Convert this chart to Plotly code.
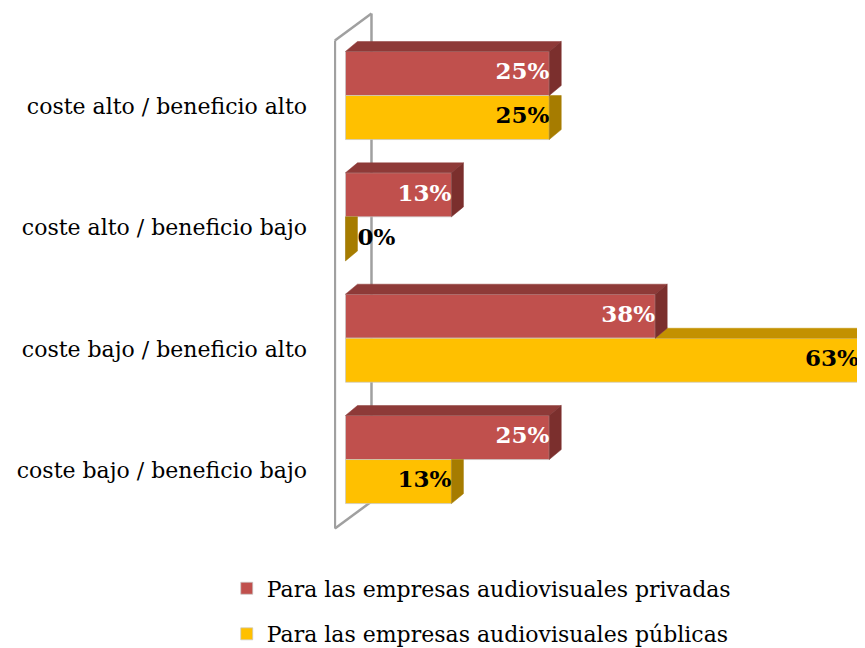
import plotly.graph_objects as go

categories = ["coste alto / beneficio alto", "coste alto / beneficio bajo",
              "coste bajo / beneficio alto", "coste bajo / beneficio bajo"]
privadas = [25, 13, 38, 25]
publicas = [25, 0, 63, 13]
series_names = ["Para las empresas audiovisuales privadas",
                "Para las empresas audiovisuales públicas"]

FONT = "DejaVu Serif"
W = 0.363      # bar thickness (category units)
DX = 1.47      # 3d depth, x units
DY = -0.082    # 3d depth, y units (axis reversed, negative = up)

RED, RED_TOP, RED_SIDE = "#C0504D", "#8E3A38", "#7B2F2D"
YEL, YEL_TOP, YEL_SIDE = "#FFC000", "#C39100", "#A67C00"

idx = list(range(len(categories)))
y_red = [k - W / 2 for k in idx]
y_yel = [k + W / 2 for k in idx]

fig = go.Figure()

# front faces
fig.add_trace(go.Bar(y=y_red, x=privadas, orientation="h", width=W, name=series_names[0],
                     marker=dict(color=RED, line=dict(color="rgba(200,200,200,0.7)", width=1)),
                     legendgroup="a", hoverinfo="skip"))
fig.add_trace(go.Bar(y=y_yel, x=publicas, orientation="h", width=W, name=series_names[1],
                     marker=dict(color=YEL, line=dict(color="rgba(200,200,200,0.7)", width=1)),
                     legendgroup="b", hoverinfo="skip"))


def poly(xs, ys, color):
    fig.add_trace(go.Scatter(x=xs + [xs[0]], y=ys + [ys[0]], mode="lines", fill="toself",
                             fillcolor=color, line=dict(color=color, width=0.5),
                             showlegend=False, hoverinfo="skip"))


for k, vr, vy in zip(idx, privadas, publicas):
    top_r = k - W
    # yellow top face, part not hidden by the red bar
    if vy > vr:
        poly([vr, vy, vy + DX, vr + DX], [k, k, k + DY, k + DY], YEL_TOP)
    # yellow side face (upper part hidden behind red when red is longer)
    if vr >= vy:
        poly([vy, vy + DX, vy + DX, vy], [k, k, k + W + DY, k + W], YEL_SIDE)
    else:
        poly([vy, vy + DX, vy + DX, vy], [k, k + DY, k + W + DY, k + W], YEL_SIDE)
    # red top and side faces
    poly([0, vr, vr + DX, DX], [top_r, top_r, top_r + DY, top_r + DY], RED_TOP)
    poly([vr, vr + DX, vr + DX, vr], [top_r, top_r + DY, k + DY, k], RED_SIDE)

# value labels
for vals, ys, col in [(privadas, y_red, "white"), (publicas, y_yel, "black")]:
    xs = [v + DX if v == 0 else v for v in vals]
    pos = ["middle right" if v == 0 else "middle left" for v in vals]
    fig.add_trace(go.Scatter(x=xs, y=ys, mode="text", text=[f"{v}%" for v in vals],
                             textposition=pos, showlegend=False, hoverinfo="skip",
                             textfont=dict(family=FONT, size=23, color=col, weight="bold")))

# back wall outline
wall = dict(type="line", xref="x", yref="y", layer="below",
            line=dict(color="#A0A0A0", width=2.5))
fig.add_shape(x0=-1.3, y0=-0.453, x1=-1.3, y1=3.569, **wall)
fig.add_shape(x0=-1.3, y0=-0.453, x1=3.19, y1=-0.676, **wall)
fig.add_shape(x0=3.19, y0=-0.676, x1=3.19, y1=3.346, **wall)
fig.add_shape(x0=-1.3, y0=3.569, x1=3.19, y1=3.346, **wall)

fig.update_layout(
    width=865, height=648,
    margin=dict(l=326, r=0, t=0, b=108),
    paper_bgcolor="white", plot_bgcolor="white",
    font=dict(family=FONT, size=22, color="black"),
    barmode="overlay",
    showlegend=True,
    legend=dict(x=-0.199, y=-0.036, xanchor="left", yanchor="top",
                traceorder="grouped", tracegroupgap=14,
                font=dict(family=FONT, size=22)),
    xaxis=dict(range=[-1.41, 64.72], visible=False, fixedrange=True),
    yaxis=dict(range=[3.729, -0.721], tickvals=[k + 0.09 for k in idx], ticktext=categories,
               showgrid=False, zeroline=False, showline=False, ticks="",
               ticklabelstandoff=26, tickfont=dict(family=FONT, size=22)),
)

fig.write_html("out.html")
